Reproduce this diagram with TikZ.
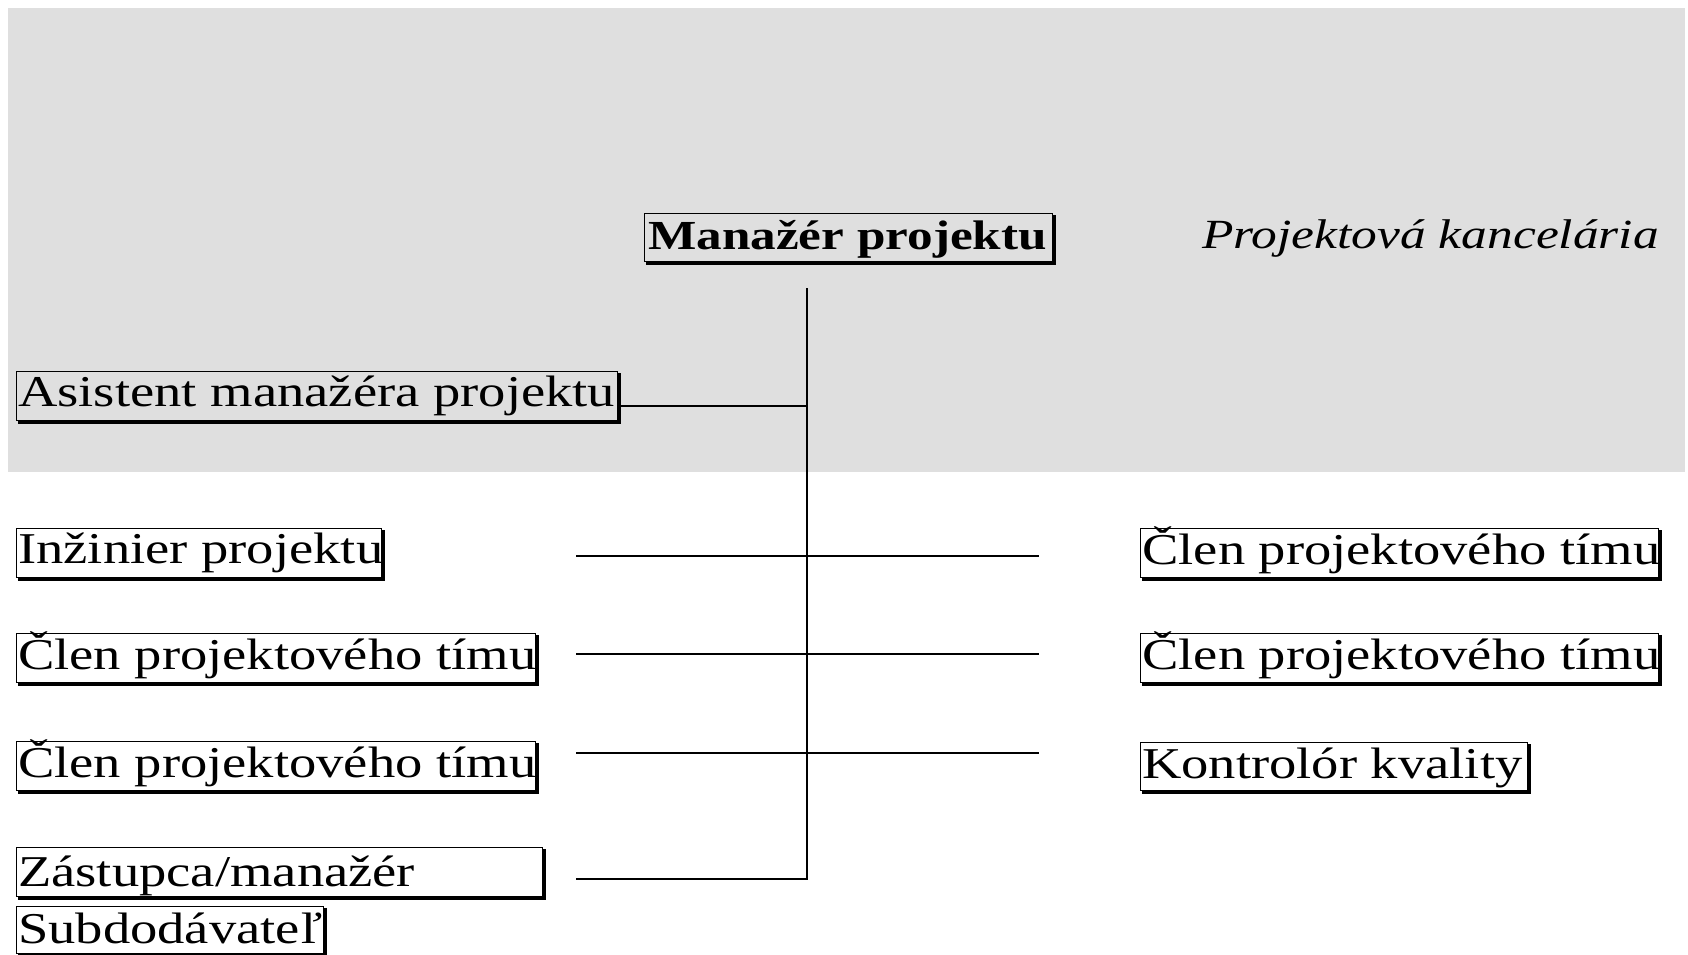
\documentclass[tikz,border=0pt]{standalone}
\usepackage{fontspec}
\newfontfamily\orgfont{Liberation Serif}[FakeStretch=1.24]
\definecolor{officegray}{RGB}{223,223,223}
% dark edge along the right and bottom side of a box
\newcommand\dropedge[1]{%
  \draw[edgeshadow] ([shift={(1.2,2.2)}]#1.north east) -- ([shift={(1.2,1.2)}]#1.south east)
    -- ([shift={(2.2,1.2)}]#1.south west);}
\begin{document}
\begin{tikzpicture}[x=1pt,y=-1pt,
  orgbox/.style={draw=black, line width=1.4pt, rectangle, inner sep=0pt, anchor=north west},
  edgeshadow/.style={draw=black, line width=2.6pt},
  lbl/.style={inner sep=0pt, anchor=base west, text=black,
    font=\orgfont\fontsize{44pt}{48pt}\selectfont},
  boldlbl/.style={lbl, font=\orgfont\bfseries\fontsize{41.3pt}{46pt}\selectfont},
  itlbl/.style={lbl, font=\orgfont\itshape\fontsize{41.5pt}{46pt}\selectfont},
  conn/.style={draw=black, line width=1.8pt}]

\useasboundingbox (0,0) rectangle (1688,955);
\fill[white] (0,0) rectangle (1688,955);

% project office area
\fill[officegray] (7.5,8.5) rectangle (1685,471.5);

% boxes
\node[orgbox, minimum width=408pt, minimum height=48pt] (mgr)   at (644,213) {};
\node[orgbox, minimum width=601pt, minimum height=49pt] (asist) at (16,371) {};
\node[orgbox, minimum width=365pt, minimum height=49pt] (inz)   at (16,528) {};
\node[orgbox, minimum width=519pt, minimum height=49pt] (clenA) at (16,633) {};
\node[orgbox, minimum width=519pt, minimum height=49pt] (clenB) at (16,741) {};
\node[orgbox, minimum width=526pt, minimum height=49pt] (zast)  at (16,847) {};
\node[orgbox, minimum width=307pt, minimum height=47pt] (sub)   at (16,906) {};
\node[orgbox, minimum width=518pt, minimum height=49pt] (clenC) at (1140,528) {};
\node[orgbox, minimum width=518pt, minimum height=49pt] (clenD) at (1140,633) {};
\node[orgbox, minimum width=387pt, minimum height=48pt] (kontr) at (1140,742) {};

\foreach \b in {mgr,asist,inz,clenA,clenB,zast,sub,clenC,clenD,kontr}{\dropedge{\b}}

% texts
\node[boldlbl] (mgrT)   at ([shift={(4,36)}]mgr.north west) {Manažér projektu};
\node[lbl]     (asistT) at ([shift={(2,35)}]asist.north west) {Asistent manažéra projektu};
\node[lbl]     (inzT)   at ([shift={(2,35)}]inz.north west) {Inžinier projektu};
\node[lbl]     (clenAT) at ([shift={(2,36)}]clenA.north west) {Člen projektového tímu};
\node[lbl]     (clenBT) at ([shift={(2,36)}]clenB.north west) {Člen projektového tímu};
\node[lbl]     (zastT)  at ([shift={(2,39)}]zast.north west) {Zástupca/manažér};
\node[lbl]     (subT)   at ([shift={(2,37)}]sub.north west) {Subdodávateľ};
\node[lbl]     (clenCT) at ([shift={(2,36)}]clenC.north west) {Člen projektového tímu};
\node[lbl]     (clenDT) at ([shift={(2,36)}]clenD.north west) {Člen projektového tímu};
\node[lbl]     (kontrT) at ([shift={(2,36)}]kontr.north west) {Kontrolór kvality};
\node[itlbl]   (office) at (1202,248) {Projektová kancelária};

% connector end points
\coordinate (trunkTop) at (807,288);
\coordinate (asistJoin) at (807,406);
\coordinate (trunkBot) at (807,879);
\coordinate (zastEnd) at (576,879);
\coordinate (rowAl) at (576,556);  \coordinate (rowAr) at (1039,556);
\coordinate (rowBl) at (576,654);  \coordinate (rowBr) at (1039,654);
\coordinate (rowCl) at (576,753);  \coordinate (rowCr) at (1039,753);

% connectors
\draw[conn] (trunkTop) -- (trunkBot) -- (zastEnd);
\draw[conn] (asist.east |- asistJoin) -- (asistJoin);
\draw[conn] (rowAl) -- (rowAr);
\draw[conn] (rowBl) -- (rowBr);
\draw[conn] (rowCl) -- (rowCr);
\end{tikzpicture}
\end{document}
